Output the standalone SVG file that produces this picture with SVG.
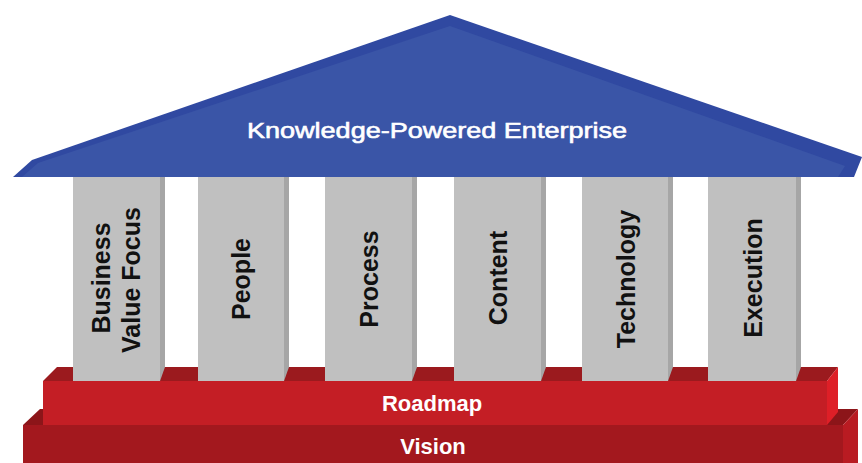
<svg xmlns="http://www.w3.org/2000/svg" width="862" height="463" viewBox="0 0 862 463">
  <style>
    .lbl { font-family: "Liberation Sans", Arial, sans-serif; font-weight: bold; font-size: 25px; fill: #111; text-anchor: middle; }
    .wlbl { font-family: "Liberation Sans", Arial, sans-serif; font-weight: bold; font-size: 22px; fill: #fff; text-anchor: middle; }
    .title { font-family: "Liberation Sans", Arial, sans-serif; font-weight: normal; font-size: 22px; fill: #fff; stroke: #fff; stroke-width: 0.6px; text-anchor: middle; }
    .col { fill: #c0c0c0; }
    .colside { fill: #a6a6a6; }
  </style>
  <rect width="862" height="463" fill="#ffffff"/>

  <g id="vision">
    <polygon points="23,425 40,409 858,409 843,425" fill="#8c1519"/>
    <rect x="23" y="425" width="820" height="38" fill="#a3181e"/>
    <polygon points="843,425 858,409 858,463 843,463" fill="#b91b22"/>
    <text class="wlbl" x="433" y="454">Vision</text>
  </g>

  <g id="roadmap">
    <polygon points="43,381 57,367 838,367 827,381" fill="#9b1a1e"/>
    <rect x="43" y="381" width="784" height="44" fill="#c41e25"/>
    <polygon points="827,381 838,367 838,412 827,425" fill="#de1f27"/>
    <text class="wlbl" x="432" y="411">Roadmap</text>
  </g>

  <g id="pillar-1">
    <rect class="col" x="73" y="175" width="87" height="206"/>
    <polygon class="colside" points="160,175 165,175 165,367 160,381"/>
    <text class="lbl" transform="translate(110,278) rotate(-90)">Business</text>
    <text class="lbl" transform="translate(140,280) rotate(-90)">Value Focus</text>
  </g>
  <g id="pillar-2">
    <rect class="col" x="198" y="175" width="86" height="206"/>
    <polygon class="colside" points="284,175 289,175 289,367 284,381"/>
    <text class="lbl" transform="translate(250,279) rotate(-90)">People</text>
  </g>
  <g id="pillar-3">
    <rect class="col" x="325" y="175" width="87" height="206"/>
    <polygon class="colside" points="412,175 417,175 417,367 412,381"/>
    <text class="lbl" transform="translate(378,279) rotate(-90)">Process</text>
  </g>
  <g id="pillar-4">
    <rect class="col" x="454" y="175" width="87" height="206"/>
    <polygon class="colside" points="541,175 546,175 546,367 541,381"/>
    <text class="lbl" transform="translate(507,278) rotate(-90)">Content</text>
  </g>
  <g id="pillar-5">
    <rect class="col" x="582" y="175" width="86" height="206"/>
    <polygon class="colside" points="668,175 673,175 673,367 668,381"/>
    <text class="lbl" transform="translate(635,279) rotate(-90)">Technology</text>
  </g>
  <g id="pillar-6">
    <rect class="col" x="708" y="175" width="88" height="206"/>
    <polygon class="colside" points="796,175 801,175 801,367 796,381"/>
    <text class="lbl" transform="translate(762,278) rotate(-90)">Execution</text>
  </g>

  <g id="roof">
    <polygon points="13,177 32,160 450,15 862,157 854,177" fill="#3049a1"/>
    <polygon points="22,177 38,163 450,26 845,166 838,177" fill="#3a55a7"/>
    <text class="title" x="437" y="138" textLength="380" lengthAdjust="spacingAndGlyphs">Knowledge-Powered Enterprise</text>
  </g>
</svg>
